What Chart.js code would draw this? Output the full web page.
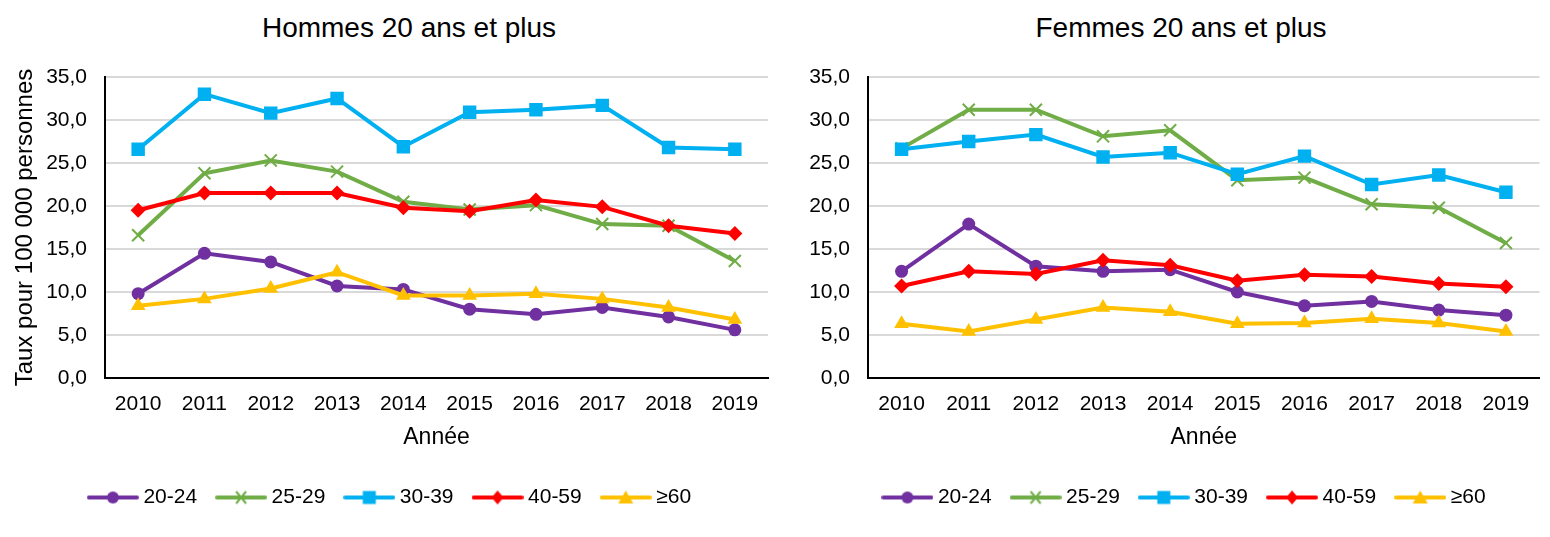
<!DOCTYPE html>
<html lang="fr">
<head>
<meta charset="utf-8">
<script src="https://cdn.jsdelivr.net/npm/chart.js@4.4.1/dist/chart.umd.min.js"></script>
<style>
  html, body { margin: 0; padding: 0; background: #fff; overflow: hidden; width: 1550px; height: 537px; }
  .wrap { position: absolute; top: 0; }
  .title { position: absolute; top: 14px; font-family: "Liberation Sans", Arial, sans-serif; font-size: 28px; line-height: 28px; color: #000; text-align: center; white-space: nowrap; }
</style>
</head>
<body>
<div class="title" style="left:0; width:818px;">Hommes 20 ans et plus</div>
<div class="title" style="left:1000px; width:362px;">Femmes 20 ans et plus</div>
<div class="wrap" style="left:0;"><canvas id="c1" width="800" height="537"></canvas></div>
<div class="wrap" style="left:800px;"><canvas id="c2" width="750" height="537"></canvas></div>
<script>
// ---- Data ----
const years = ['2010', '2011', '2012', '2013', '2014', '2015', '2016', '2017', '2018', '2019'];
const ageGroups = ['20-24', '25-29', '30-39', '40-59', '\u226560'];
const yTickLabels = ['0,0', '5,0', '10,0', '15,0', '20,0', '25,0', '30,0', '35,0'];

const hommes_20_24 = [9.8, 14.5, 13.5, 10.7, 10.3, 8.0, 7.4, 8.2, 7.1, 5.6];
const hommes_25_29 = [16.6, 23.8, 25.3, 24.0, 20.5, 19.6, 20.1, 17.9, 17.7, 13.6];
const hommes_30_39 = [26.6, 33.0, 30.8, 32.5, 26.9, 30.9, 31.2, 31.7, 26.8, 26.6];
const hommes_40_59 = [19.5, 21.5, 21.5, 21.5, 19.8, 19.4, 20.7, 19.9, 17.7, 16.8];
const hommes_60 = [8.4, 9.2, 10.4, 12.3, 9.6, 9.6, 9.8, 9.2, 8.2, 6.8];

const femmes_20_24 = [12.4, 17.9, 13.0, 12.4, 12.6, 10.0, 8.4, 8.9, 7.9, 7.3];
const femmes_25_29 = [26.7, 31.2, 31.2, 28.1, 28.8, 23.0, 23.3, 20.2, 19.8, 15.7];
const femmes_30_39 = [26.6, 27.5, 28.3, 25.7, 26.2, 23.7, 25.8, 22.5, 23.6, 21.6];
const femmes_40_59 = [10.7, 12.4, 12.1, 13.7, 13.1, 11.3, 12.0, 11.8, 11.0, 10.6];
const femmes_60 = [6.3, 5.4, 6.8, 8.2, 7.7, 6.3, 6.4, 6.9, 6.4, 5.4];

// ---- Styles ----
const FONT = '"Liberation Sans", Arial, sans-serif';
const colors = ['#7030A0', '#70AD47', '#00B0F0', '#FF0000', '#FFC000'];
const markers = [
  { pointStyle: 'circle', radius: 6.5, borderWidth: 0 },
  { pointStyle: 'crossRot', radius: 8.5, borderWidth: 2 },
  { pointStyle: 'rect', radius: 9.5, borderWidth: 0 },
  { pointStyle: 'rectRot', radius: 7.5, borderWidth: 0 },
  { pointStyle: 'triangle', radius: 8.5, borderWidth: 0 }
];

function legendImage(color, idx) {
  const c = document.createElement('canvas');
  c.width = 52; c.height = 18;
  const g = c.getContext('2d');
  g.strokeStyle = color; g.fillStyle = color;
  g.lineWidth = 4; g.lineCap = 'round';
  g.beginPath(); g.moveTo(2, 9); g.lineTo(50, 9); g.stroke();
  const cx = 26, cy = 9;
  g.beginPath();
  if (idx === 0) { g.arc(cx, cy, 6, 0, Math.PI * 2); g.fill(); }
  else if (idx === 1) {
    g.lineWidth = 2; g.lineCap = 'butt';
    g.moveTo(cx - 5, cy - 6); g.lineTo(cx + 5, cy + 6);
    g.moveTo(cx + 5, cy - 6); g.lineTo(cx - 5, cy + 6); g.stroke();
  }
  else if (idx === 2) { g.rect(cx - 6.5, cy - 6.5, 13, 13); g.fill(); }
  else if (idx === 3) { g.moveTo(cx, cy - 7); g.lineTo(cx + 6, cy); g.lineTo(cx, cy + 7); g.lineTo(cx - 6, cy); g.closePath(); g.fill(); }
  else { g.moveTo(cx, cy - 7); g.lineTo(cx + 7.5, cy + 6); g.lineTo(cx - 7.5, cy + 6); g.closePath(); g.fill(); }
  return c;
}
const legendImages = colors.map((c, i) => legendImage(c, i));

// shifts the legend box horizontally after layout
const legendShift = {
  id: 'legendShift',
  afterLayout(chart, args, opts) {
    const dx = opts.dx || 0;
    if (chart.legend && dx) { chart.legend.left += dx; chart.legend.right += dx; }
  }
};

function makeDatasets(series) {
  return series.map((data, i) => ({
    label: ageGroups[i],
    data: data,
    borderColor: colors[i],
    backgroundColor: colors[i],
    borderWidth: 4,
    tension: 0,
    fill: false,
    pointStyle: markers[i].pointStyle,
    pointRadius: markers[i].radius,
    pointHoverRadius: markers[i].radius,
    pointBorderWidth: markers[i].borderWidth,
    pointBorderColor: colors[i],
    pointBackgroundColor: colors[i],
    order: series.length - i
  }));
}

function makeChart(id, series, opts) {
  return new Chart(document.getElementById(id), {
    type: 'line',
    data: { labels: years, datasets: makeDatasets(series) },
    plugins: [legendShift],
    options: {
      responsive: false,
      animation: false,
      devicePixelRatio: 1,
      layout: { padding: { top: 77, left: 0, right: opts.padRight, bottom: 19 } },
      plugins: {
        legendShift: { dx: opts.legendDx },
        title: { display: false },
        tooltip: { enabled: false },
        legend: {
          position: 'bottom',
          labels: {
            usePointStyle: true,
            pointStyleWidth: 40,
            padding: 24,
            color: '#000',
            font: { family: FONT, size: 21 },
            generateLabels: () => ageGroups.map((g, i) => ({
              text: g,
              pointStyle: legendImages[i],
              fillStyle: colors[i],
              strokeStyle: colors[i],
              lineWidth: 0,
              fontColor: '#000',
              hidden: false,
              datasetIndex: i
            }))
          }
        }
      },
      scales: {
        x: {
          type: 'category',
          offset: true,
          grid: { display: false, drawTicks: false },
          border: { display: true, color: '#000', width: 2 },
          ticks: { color: '#000', font: { family: FONT, size: 21 }, padding: 14, maxRotation: 0, autoSkip: false },
          title: { display: true, text: 'Ann\u00e9e', color: '#000', font: { family: FONT, size: 23 }, padding: { top: 0, bottom: 12 } },
          afterFit: s => { s.height = 85; }
        },
        y: {
          min: 0, max: 35,
          ticks: {
            stepSize: 5,
            color: '#000',
            font: { family: FONT, size: 21 },
            padding: 18,
            callback: (v, i) => yTickLabels[i]
          },
          grid: { color: '#d9d9d9', lineWidth: 2, drawTicks: false },
          border: { display: true, color: '#000', width: 2 },
          title: opts.yTitle ? { display: true, text: 'Taux pour 100 000 personnes', color: '#000', font: { family: FONT, size: 24 }, padding: { top: 11, bottom: 0 } } : { display: false },
          afterFit: s => { s.width = opts.yWidth; }
        }
      }
    }
  });
}

makeChart('c1', [hommes_20_24, hommes_25_29, hommes_30_39, hommes_40_59, hommes_60], { padRight: 32, yWidth: 105, yTitle: true, legendDx: 8 });
makeChart('c2', [femmes_20_24, femmes_25_29, femmes_30_39, femmes_40_59, femmes_60], { padRight: 7, yWidth: 68, yTitle: false, legendDx: 15 });
</script>
</body>
</html>
